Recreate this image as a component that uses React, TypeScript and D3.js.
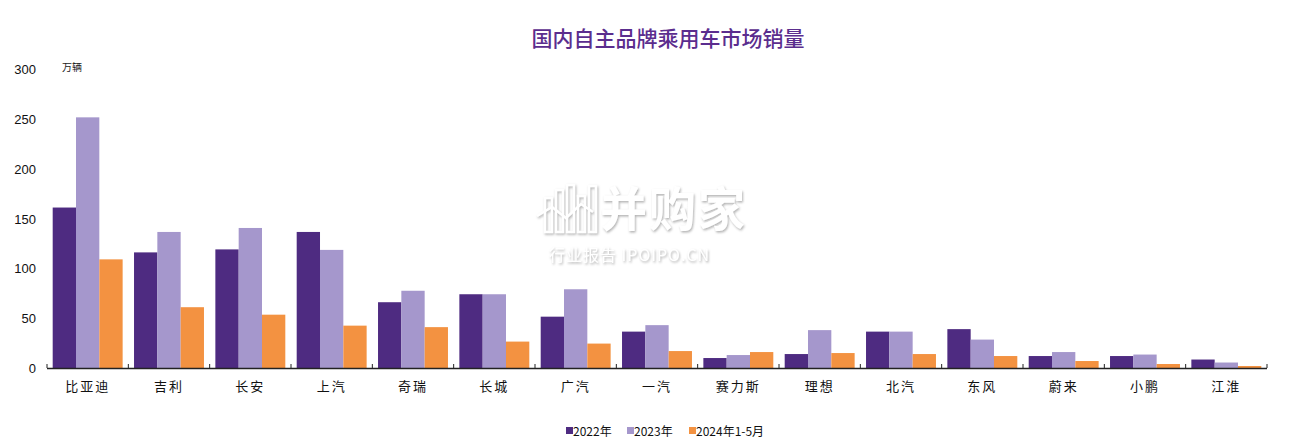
import React from "react";
import * as d3 from "d3";

const categories = ["比亚迪", "吉利", "长安", "上汽", "奇瑞", "长城", "广汽", "一汽", "赛力斯", "理想", "北汽", "东风", "蔚来", "小鹏", "江淮"];
const sales2022 = [161, 116, 119, 136.5, 66, 74, 51.5, 36.5, 10, 14, 36.5, 39, 12, 12, 8.5];
const sales2023 = [251.5, 136.5, 140.5, 118.5, 77.5, 74, 79, 43, 13, 38, 36.5, 28.5, 16, 13.5, 5.5];
const sales2024 = [109, 61, 53.5, 42.5, 41, 26.5, 24.5, 17, 16, 15, 14, 12, 7, 4, 2];
const seriesNames = ["2022年", "2023年", "2024年1-5月"];
const yTicks = [0, 50, 100, 150, 200, 250, 300];
const colors = ["#4e2b81", "#a597cc", "#f39241"];

const W = 1292;
const H = 442;
const cjk = "'Noto Sans CJK SC', 'Liberation Sans', sans-serif";

export default function App() {
  const x = d3.scaleBand<string>().domain(categories).range([47, 1267]).paddingInner(0.14).paddingOuter(0.07);
  const inner = d3.scaleBand<number>().domain([0, 1, 2]).range([0, x.bandwidth()]);
  const y = d3.scaleLinear().domain([0, 300]).range([368, 69]);
  const series = [sales2022, sales2023, sales2024];
  const step = x.step();
  const tickXs = d3.range(categories.length + 1).map((i) => 47 + i * step);

  return (
    <svg width={W} height={H} style={{ position: "absolute", left: 0, top: 0, background: "#fff" }}>
      <defs>
        <filter id="wm" x="-10%" y="-10%" width="120%" height="130%">
          <feDropShadow dx="1" dy="1.5" stdDeviation="1.2" floodColor="#9a9a9a" floodOpacity="0.8" />
        </filter>
      </defs>
      <rect width={W} height={H} fill="#fff" />
      <text x={668} y={46} textAnchor="middle" fontSize={21} fontFamily={cjk} fontWeight={500} fill="#5b2d8e">
        国内自主品牌乘用车市场销量
      </text>
      <text x={62} y={71} fontSize={10} fontFamily={cjk} fill="#222">万辆</text>
      {yTicks.map((t) => (
        <text key={t} x={36} y={y(t) + 5} textAnchor="end" fontSize={13} fontFamily="'Liberation Sans', Arial, sans-serif" fill="#111">
          {t}
        </text>
      ))}
      {series.map((vals, si) =>
        vals.map((v, ci) => (
          <rect
            key={`${si}-${ci}`}
            x={(x(categories[ci]) as number) + (inner(si) as number)}
            y={y(v)}
            width={inner.bandwidth()}
            height={y(0) - y(v)}
            fill={colors[si]}
          />
        ))
      )}
      <line x1={47} x2={1267} y1={y(0) + 0.5} y2={y(0) + 0.5} stroke="#222" strokeWidth={1.3} />
      {tickXs.map((tx, i) => (
        <line key={i} x1={tx} x2={tx} y1={y(0)} y2={y(0) - 4} stroke="#222" strokeWidth={1} />
      ))}
      {categories.map((c) => (
        <text key={c} x={(x(c) as number) + x.bandwidth() / 2} y={391} textAnchor="middle" fontSize={13} fontFamily={cjk} fill="#111" letterSpacing={2}>
          {c}
        </text>
      ))}
      <g filter="url(#wm)" opacity={0.95}>
        <g fill="none" stroke="#fff" strokeWidth={2.5}>
          <rect x={545} y={198} width={7} height={34} />
          <rect x={556} y={190} width={7} height={42} />
          <rect x={567} y={185} width={7} height={47} />
          <rect x={578} y={196} width={7} height={36} />
          <rect x={589} y={186} width={7} height={46} />
          <polyline points="537,216 552,207 566,218 581,204 593,212" />
        </g>
        <text x={600} y={226} fontSize={47} fontFamily={cjk} fontWeight={700} fill="#fff" letterSpacing={2}>并购家</text>
        <text x={549} y={261} fontSize={16} fontFamily={cjk} fill="#fff" letterSpacing={1}>行业报告 IPOIPO.CN</text>
      </g>
      {seriesNames.map((n, i) => {
        const lx = [566, 627, 689][i];
        return (
          <g key={n}>
            <rect x={lx} y={427} width={7} height={7} fill={colors[i]} />
            <text x={lx + 7} y={436} fontSize={12} fontFamily={cjk} fill="#111">{n}</text>
          </g>
        );
      })}
    </svg>
  );
}
